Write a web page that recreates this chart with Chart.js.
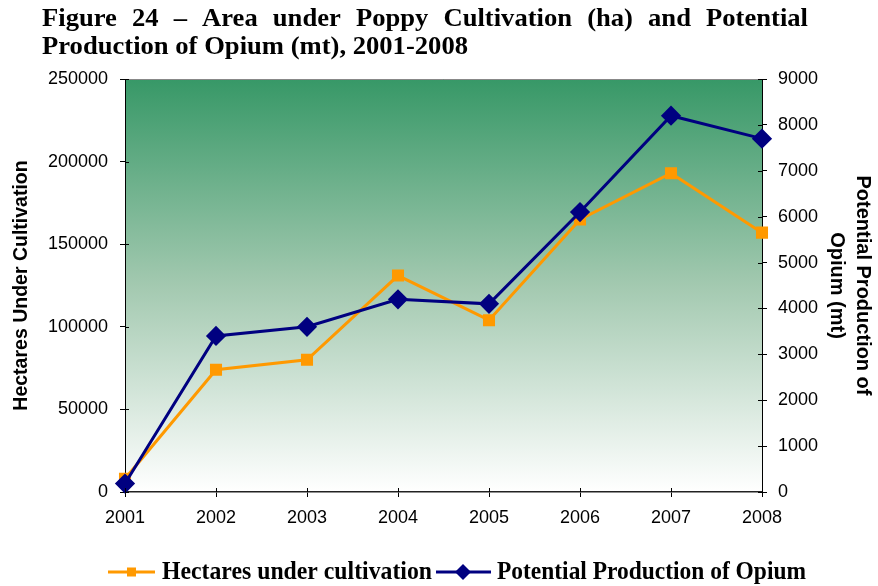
<!DOCTYPE html>
<html>
<head>
<meta charset="utf-8">
<script src="https://cdn.jsdelivr.net/npm/chart.js@4.4.0/dist/chart.umd.min.js"></script>
<style>
  html, body { margin: 0; padding: 0; background: #fff; }
  #wrap { width: 878px; height: 586px; }
</style>
</head>
<body>
<div id="wrap"><canvas id="chart" width="878" height="586"></canvas></div>
<script>
const years = ['2001', '2002', '2003', '2004', '2005', '2006', '2007', '2008'];
const hectares = [8000, 74000, 80000, 131000, 104000, 165000, 193000, 157000];
const opium = [185, 3400, 3600, 4200, 4100, 6100, 8200, 7700];

const titleLine1 = 'Figure 24 \u2013 Area under Poppy Cultivation (ha) and Potential';
const titleLine2 = 'Production of Opium (mt), 2001-2008';
const leftTitle = 'Hectares Under Cultivation';
const rightTitle = ['Potential Production of', 'Opium (mt)'];
const legendLabels = ['Hectares under cultivation', 'Potential Production of Opium'];

const orange = '#FF9900';
const navy = '#000080';
const serifBold = 'bold 26px "Liberation Serif", "Times New Roman", serif';

// green to white fill behind the plot
const backdrop = {
  id: 'backdrop',
  beforeDraw(chart) {
    const { ctx, chartArea: a } = chart;
    const g = ctx.createLinearGradient(0, a.top, 0, a.bottom);
    g.addColorStop(0, '#379867');
    g.addColorStop(0.5, '#a3c9b0');
    g.addColorStop(1, '#ffffff');
    ctx.save();
    ctx.fillStyle = g;
    ctx.fillRect(a.left, a.top, a.right - a.left, a.bottom - a.top);
    ctx.strokeStyle = '#888';
    ctx.lineWidth = 1;
    ctx.beginPath();
    ctx.moveTo(a.left, a.top + 0.5);
    ctx.lineTo(a.right, a.top + 0.5);
    ctx.stroke();
    ctx.restore();
  }
};

// tick marks in the reference cross the axis line, draw the inner half
const innerTicks = {
  id: 'innerTicks',
  afterDatasetsDraw(chart) {
    const { ctx, chartArea: a, scales } = chart;
    ctx.save();
    ctx.strokeStyle = '#000';
    ctx.lineWidth = 1;
    ctx.beginPath();
    scales.x.ticks.forEach((t, i) => {
      const px = Math.round(scales.x.getPixelForTick(i)) + 0.5;
      ctx.moveTo(px, a.bottom); ctx.lineTo(px, a.bottom - 4);
    });
    scales.y.ticks.forEach(t => {
      const py = Math.round(scales.y.getPixelForValue(t.value)) + 0.5;
      ctx.moveTo(a.left, py); ctx.lineTo(a.left + 4, py);
    });
    scales.y1.ticks.forEach(t => {
      const py = Math.round(scales.y1.getPixelForValue(t.value)) + 0.5;
      ctx.moveTo(a.right, py); ctx.lineTo(a.right - 4, py);
    });
    ctx.stroke();
    ctx.restore();
  }
};

function squeezed(ctx, text, x, y, width) {
  const w = ctx.measureText(text).width;
  ctx.save();
  ctx.translate(x, y);
  ctx.scale(width / w, 1);
  ctx.fillText(text, 0, 0);
  ctx.restore();
}

// justified two-line heading
const heading = {
  id: 'heading',
  afterDraw(chart) {
    const ctx = chart.ctx;
    ctx.save();
    ctx.font = serifBold;
    ctx.fillStyle = '#000';
    ctx.textBaseline = 'alphabetic';
    const left = 42, right = 808;
    const sx = 426 / ctx.measureText(titleLine2).width;
    squeezed(ctx, titleLine2, left, 54, 426);
    const words = titleLine1.split(' ');
    const widths = words.map(w => ctx.measureText(w).width * sx);
    const gap = (right - left - widths.reduce((s, v) => s + v, 0)) / (words.length - 1);
    let x = left;
    words.forEach((w, i) => {
      squeezed(ctx, w, x, 26, widths[i]);
      x += widths[i] + gap;
    });
    ctx.restore();
  }
};

// legend with line + marker samples
const legendBar = {
  id: 'legendBar',
  afterDraw(chart) {
    const ctx = chart.ctx;
    const y = 572;
    ctx.save();
    ctx.font = serifBold;
    ctx.fillStyle = '#000';
    ctx.textBaseline = 'alphabetic';

    ctx.strokeStyle = orange;
    ctx.lineWidth = 3;
    ctx.beginPath(); ctx.moveTo(108, y); ctx.lineTo(155, y); ctx.stroke();
    ctx.fillStyle = orange;
    ctx.fillRect(127, y - 4.5, 9, 9);
    ctx.fillStyle = '#000';
    squeezed(ctx, legendLabels[0], 162, 579, 270);

    ctx.strokeStyle = navy;
    ctx.beginPath(); ctx.moveTo(436, y); ctx.lineTo(491, y); ctx.stroke();
    ctx.fillStyle = navy;
    ctx.beginPath();
    ctx.moveTo(463, y - 8); ctx.lineTo(471, y); ctx.lineTo(463, y + 8); ctx.lineTo(455, y);
    ctx.closePath(); ctx.fill();
    ctx.fillStyle = '#000';
    squeezed(ctx, legendLabels[1], 497, 579, 309);
    ctx.restore();
  }
};

const tickFont = { family: '"Liberation Sans", Arial, sans-serif', size: 18 };
const plain = { useGrouping: false };

new Chart(document.getElementById('chart'), {
  type: 'line',
  data: {
    labels: years,
    datasets: [
      {
        label: legendLabels[0],
        data: hectares,
        yAxisID: 'y',
        borderColor: orange,
        backgroundColor: orange,
        borderWidth: 3,
        pointStyle: 'rect',
        pointRadius: 6.4,
        pointHoverRadius: 6.4,
        tension: 0,
        clip: false,
        order: 2
      },
      {
        label: legendLabels[1],
        data: opium,
        yAxisID: 'y1',
        borderColor: navy,
        backgroundColor: navy,
        borderWidth: 3,
        pointStyle: 'rectRot',
        pointRadius: 8,
        pointHoverRadius: 8,
        tension: 0,
        clip: false,
        order: 1
      }
    ]
  },
  options: {
    responsive: false,
    animation: false,
    layout: { padding: { top: 79, left: 0, right: 0, bottom: 0 } },
    plugins: {
      legend: { display: false },
      tooltip: { enabled: false }
    },
    scales: {
      x: {
        offset: false,
        afterFit: s => { s.height = 94; },
        grid: { drawOnChartArea: false, drawTicks: true, tickLength: 5, color: '#000' },
        border: { color: '#222', width: 1.5 },
        ticks: { color: '#000', font: tickFont, padding: 10, maxRotation: 0, autoSkip: false }
      },
      y: {
        position: 'left',
        min: 0,
        max: 250000,
        afterFit: s => { s.width = 125; },
        grid: { drawOnChartArea: false, drawTicks: true, tickLength: 5, color: '#000' },
        border: { color: '#000', width: 1 },
        ticks: { stepSize: 50000, color: '#000', font: tickFont, padding: 12, format: plain },
        title: {
          display: true,
          text: leftTitle,
          color: '#000',
          font: { family: '"Liberation Sans", Arial, sans-serif', size: 19.5, weight: 'bold' },
          padding: { top: 10, bottom: 0 }
        }
      },
      y1: {
        position: 'right',
        min: 0,
        max: 9000,
        afterFit: s => { s.width = 116; },
        grid: { drawOnChartArea: false, drawTicks: true, tickLength: 5, color: '#000' },
        border: { color: '#000', width: 1 },
        ticks: { stepSize: 1000, color: '#000', font: tickFont, padding: 11, format: plain },
        title: {
          display: true,
          text: rightTitle,
          color: '#000',
          font: { family: '"Liberation Sans", Arial, sans-serif', size: 20, weight: 'bold', lineHeight: 1.3 },
          padding: { top: 2, bottom: 0 }
        }
      }
    }
  },
  plugins: [backdrop, innerTicks, heading, legendBar]
});
</script>
</body>
</html>
